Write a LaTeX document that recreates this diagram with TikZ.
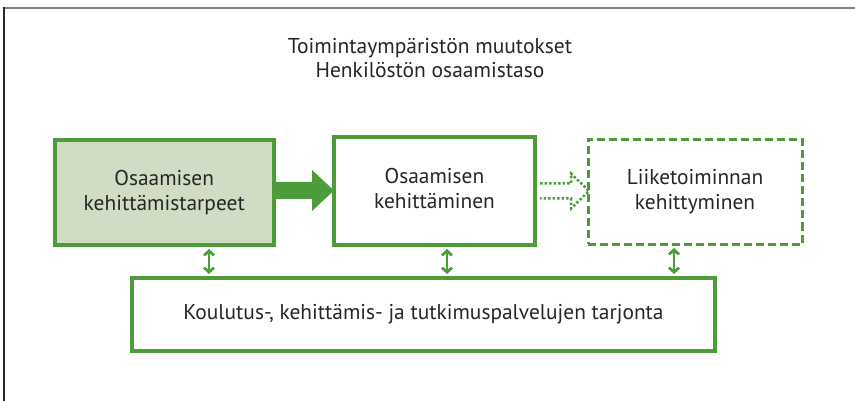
\documentclass[tikz,border=0pt]{standalone}
\usepackage{fontspec}
\setmainfont{PT Sans}
\usetikzlibrary{arrows.meta,calc}
\definecolor{grn}{RGB}{76,157,58}
\definecolor{boxfill}{RGB}{208,220,196}
\definecolor{txt}{RGB}{38,38,38}
\definecolor{topline}{RGB}{128,128,128}
\definecolor{sideline}{RGB}{40,40,40}
\tikzset{
  boxbase/.style={align=center, text=txt, inner sep=0pt,
    font=\fontsize{21.4}{25}\selectfont},
  solidbox/.style={boxbase, draw=grn, line width=4pt},
  dashbox/.style={boxbase, draw=grn, line width=3pt, dash pattern=on 8pt off 4pt},
  varr/.style={draw=grn, line width=2.8pt, {Straight Barb[length=4.5pt,width=10pt]}-{Straight Barb[length=4.5pt,width=10pt]}, shorten <=2pt, shorten >=2pt},
  dotarr/.style={draw=grn, line width=2.5pt, dash pattern=on 2.5pt off 2pt, line join=miter},
}
\begin{document}
\begin{tikzpicture}[x=1pt,y=-1pt]
\useasboundingbox (0,0) rectangle (855,401);
% frame
\draw[topline, line width=2pt] (3,8) -- (855,8);
\draw[sideline, line width=1.5pt] (4,401) -- (4,7);
% title
\node[boxbase, font=\fontsize{21.5}{24}\selectfont] (title) at (430,58)
  {Toimintaympäristön muutokset\\Henkilöstön osaamistaso};
% boxes
\node[solidbox, fill=boxfill, minimum width=219.5pt, minimum height=105pt] (b1) at (164.25,192.5)
  {Osaamisen\\kehittämistarpeet};
\node[solidbox, minimum width=201pt, minimum height=108pt] (b2) at (434.5,191)
  {Osaamisen\\kehittäminen\vphantom{p}};
\node[dashbox, minimum width=214pt, minimum height=105pt] (b3) at (695,192)
  {Liiketoiminnan\\kehittyminen};
\node[solidbox, minimum width=583pt, minimum height=73pt] (bot) at (423.5,314.5)
  {Koulutus-, kehittämis- ja tutkimuspalvelujen tarjonta};
% thick arrow
\fill[grn] ([yshift=2pt]b1.east) ++(0,-8.5) -- ++(36,0) -- ++(0,-12) -- ++(22,20.5)
  -- ++(-22,20.5) -- ++(0,-12) -- ++(-36,0) -- cycle;
% dotted outline arrow
\draw[dotarr] (b2.east) ++(3,-7.5) -- ++(31,0) -- ++(0,-10) -- ++(18,17.5)
  -- ++(-18,17.5) -- ++(0,-10) -- ++(-31,0);
% vertical double arrows
\draw[varr] ([xshift=44.75pt]b1.south) -- ([xshift=44.75pt]b1.south |- bot.north);
\draw[varr] ([xshift=12.5pt]b2.south) -- ([xshift=12.5pt]b2.south |- bot.north);
\draw[varr] ([xshift=-21pt]b3.south) -- ([xshift=-21pt]b3.south |- bot.north);
\end{tikzpicture}
\end{document}
